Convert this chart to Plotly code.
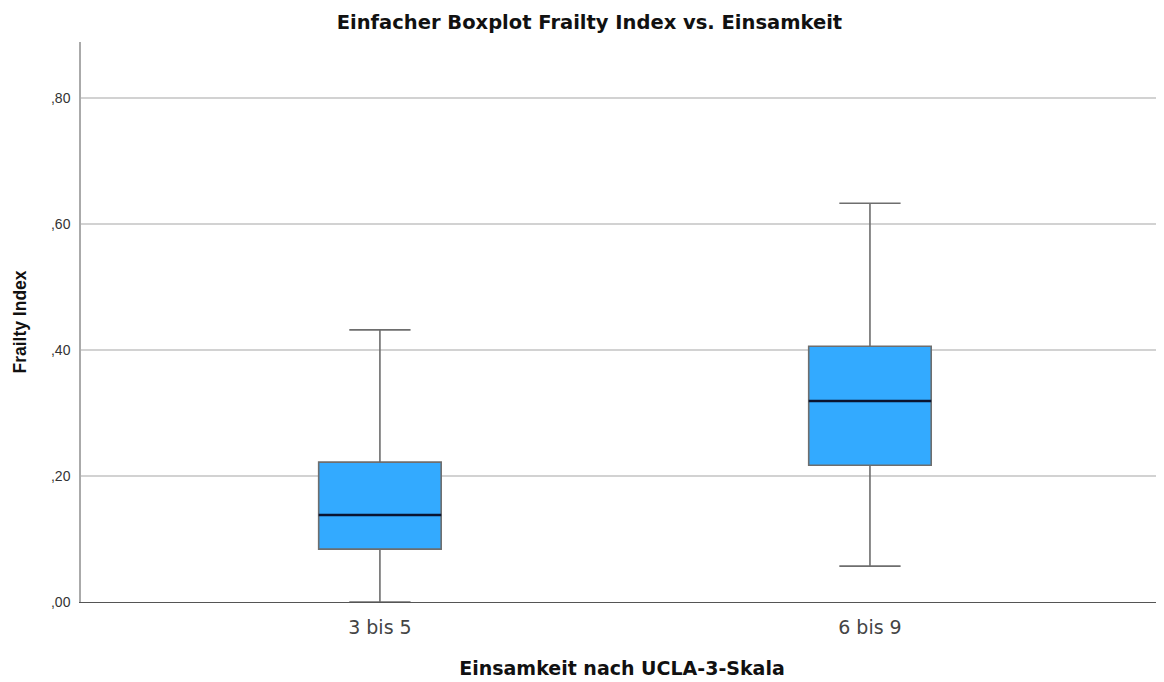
import plotly.graph_objects as go

categories = ["3 bis 5", "6 bis 9"]
lower_whisker = [0.000, 0.057]
q1_values = [0.084, 0.217]
median_values = [0.138, 0.319]
q3_values = [0.222, 0.406]
upper_whisker = [0.432, 0.633]

y_tickvals = [0.0, 0.2, 0.4, 0.6, 0.8]
y_ticktext = [",00", ",20", ",40", ",60", ",80"]

box_width = 0.25
xpos = list(range(len(categories)))

fig = go.Figure()
fig.add_trace(go.Box(
    x=xpos,
    q1=q1_values,
    median=median_values,
    q3=q3_values,
    lowerfence=lower_whisker,
    upperfence=upper_whisker,
    width=box_width,
    whiskerwidth=0.5,
    fillcolor="#33aaff",
    line=dict(color="#6e6e6e", width=1.6),
    showlegend=False,
    hoverinfo="skip",
))
# dark median lines
for i, m in zip(xpos, median_values):
    fig.add_trace(go.Scatter(
        x=[i - box_width / 2, i + box_width / 2], y=[m, m],
        mode="lines", line=dict(color="#0a1430", width=2.6),
        showlegend=False, hoverinfo="skip",
    ))

fig.update_layout(
    width=1156, height=674,
    margin=dict(l=73, r=1, t=34, b=80),
    paper_bgcolor="white", plot_bgcolor="white",
    font=dict(family="Liberation Sans, Arial, sans-serif", color="#222"),
    title=dict(text="<b>Einfacher Boxplot Frailty Index vs. Einsamkeit</b>",
               x=0.503, xanchor="center", xref="container",
               y=0.979, yanchor="middle", yref="container",
               font=dict(size=19.5, color="#111", family="DejaVu Sans, sans-serif")),
    xaxis=dict(
        range=[-0.61, 1.598], tickvals=xpos, ticktext=categories,
        showgrid=False, zeroline=False,
        showline=True, linecolor="#555", linewidth=1.3,
        ticks="", ticklabelstandoff=8,
        tickfont=dict(size=19, color="#444", family="DejaVu Sans, sans-serif"),
        title=dict(text="<b>Einsamkeit nach UCLA-3-Skala</b>",
                   font=dict(size=19, color="#111", family="DejaVu Sans, sans-serif"),
                   standoff=24),
    ),
    yaxis=dict(
        range=[0, 0.889], tickvals=y_tickvals, ticktext=y_ticktext,
        showgrid=True, gridcolor="#d2d2d2", gridwidth=1.5,
        zeroline=False, showline=True, linecolor="#aaaaaa", linewidth=1.5,
        ticks="", ticklabelstandoff=6, tickfont=dict(size=14, color="#333"),
        title=dict(text="<b>Frailty Index</b>",
                   font=dict(size=17.5, color="#111"), standoff=20),
    ),
)

fig.write_html("out.html")
